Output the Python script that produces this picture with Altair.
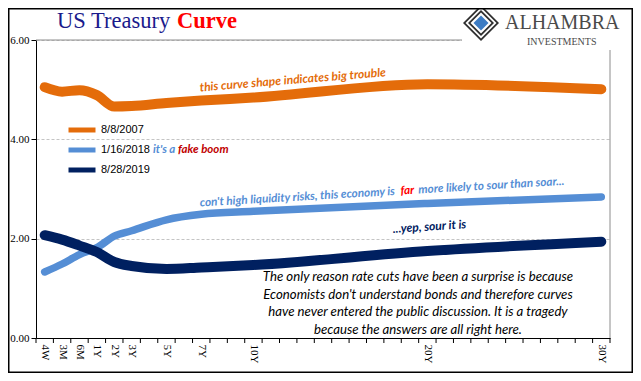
import altair as alt
import pandas as pd

# ---------------- data ----------------
tenors = ["4W", "3M", "6M", "1Y", "2Y", "3Y", "5Y", "7Y", "10Y", "20Y", "30Y"]
tenor_slot = [0, 1, 2, 3, 4, 5, 7, 9, 12, 22, 32]
series_names = ["8/8/2007", "1/16/2018", "8/28/2019"]
y2007 = [5.05, 4.96, 4.99, 4.89, 4.66, 4.67, 4.73, 4.78, 4.84, 5.11, 5.01]
y2018 = [1.33, 1.49, 1.68, 1.82, 2.05, 2.16, 2.38, 2.49, 2.55, 2.71, 2.84]
y2019 = [2.07, 1.98, 1.86, 1.73, 1.53, 1.45, 1.39, 1.42, 1.47, 1.75, 1.94]
y_ticks = [0, 2, 4, 6]
slot_bounds = [i - 0.5 for i in range(34)]

ORANGE = "#E46C0A"
LBLUE = "#558ED5"
NAVY = "#002060"

rows = []
for name, vals in zip(series_names, [y2007, y2018, y2019]):
    for t, s, v in zip(tenors, tenor_slot, vals):
        rows.append({"series": name, "tenor": t, "slot": s, "rate": v})
df = pd.DataFrame(rows)
one = pd.DataFrame({"k": [0]})

W, H = 574, 298
PAD = {"left": 28, "top": 32, "right": 23, "bottom": 35}

xscale = alt.Scale(domain=[-0.5, 32.5], nice=False, zero=False)
yscale = alt.Scale(domain=[0, 6], nice=False, zero=True)
color_scale = alt.Scale(domain=series_names, range=[ORANGE, LBLUE, NAVY])

label_expr = ("[" + ",".join(f"'{t}'" for t in tenors) + "][indexof(["
              + ",".join(str(s) for s in tenor_slot) + "], datum.value)]")

xaxis = alt.Axis(values=tenor_slot, labelExpr=label_expr, ticks=False, grid=False,
                 labelAngle=90, labelFont="Liberation Serif", labelFontSize=11,
                 labelColor="black", labelPadding=6, domainColor="black",
                 domainWidth=1, title=None)
yaxis = alt.Axis(values=y_ticks, format=".2f", grid=True, gridDash=[3, 2],
                 gridColor="#C4C4C4", tickColor="black", tickSize=5,
                 domainColor="black", labelFont="Liberation Serif",
                 labelFontSize=11, labelColor="black", labelPadding=2, title=None)

legend = alt.Legend(orient="none", legendX=30, legendY=83, symbolType="stroke",
                    symbolStrokeWidth=5, symbolSize=729, clipHeight=14,
                    rowPadding=6, labelFont="Liberation Sans", labelFontSize=11,
                    labelColor="black", title=None, labelOffset=3,
                    symbolOffset=0, padding=0)

X = alt.X("slot:Q", scale=xscale, axis=xaxis)
Y = alt.Y("rate:Q", scale=yscale, axis=yaxis)


def line_layer(name, width):
    return alt.Chart(df).transform_filter(alt.datum.series == name).mark_line(
        strokeWidth=width, strokeCap="round", strokeJoin="round",
        interpolate="monotone"
    ).encode(x=X, y=Y, color=alt.Color("series:N", scale=color_scale, legend=legend))


def note(text, x, y, color, size, angle=0, weight="normal", style="italic",
         font="Lato", align="left", dx=0):
    kw = dict(color=color, fontSize=size, fontStyle=style, fontWeight=weight,
              font=font, align=align, baseline="alphabetic")
    if angle:
        kw["angle"] = angle
    if dx:
        kw["dx"] = dx
    return alt.Chart(one).mark_text(**kw).encode(
        x=alt.value(x), y=alt.value(y), text=alt.value(text))


# frame / grid helpers
top_rule = alt.Chart(one).mark_rule(color="#8C8C8C", strokeWidth=1).encode(
    y=alt.datum(6), x=alt.value(0), x2=alt.value(W))
right_rule = alt.Chart(one).mark_rule(color="#8C8C8C", strokeWidth=1).encode(
    x=alt.datum(32.5), y=alt.value(0), y2=alt.value(H))
tick_marks = alt.Chart(pd.DataFrame({"b": slot_bounds})).mark_rule(
    color="black", strokeWidth=1).encode(
    x=alt.X("b:Q", scale=xscale, axis=xaxis), y=alt.value(H), y2=alt.value(H + 5))

# logo area
logo_bg = alt.Chart(one).mark_rect(fill="white").encode(
    x=alt.value(426), x2=alt.value(W + 23), y=alt.value(-32), y2=alt.value(10))


def diamond(size, color):
    return alt.Chart(one).mark_point(shape="diamond", filled=True, size=size * size,
                                     color=color, opacity=1).encode(
        x=alt.value(445), y=alt.value(-17))


logo = [diamond(36, "#2E2E2E"), diamond(31, "white"), diamond(26, "#2E2E2E"),
        diamond(21, "white"), diamond(15, "#3C7CC4")]
logo_text = [
    note("ALHAMBRA", 469, -11, "#4A4A4A", 20, style="normal", font="Liberation Serif"),
    note("INVESTMENTS", 491, 5, "#4A4A4A", 10, style="normal", font="Liberation Serif"),
]

frame = alt.Chart(one).mark_rect(fillOpacity=0, stroke="black", strokeWidth=1.5).encode(
    x=alt.value(-27.25), x2=alt.value(W + 22.25), y=alt.value(-31.25), y2=alt.value(H + 34.25))

title = [
    note("US Treasury", 21, -12.5, "#1A1A8C", 22.5, style="normal", font="Liberation Serif"),
    note("Curve", 141, -12.5, "#FF0000", 22.5, style="normal", weight="bold", font="Liberation Serif"),
]

BA = 356.6  # angle of the blue annotation
notes = [
    note("this curve shape indicates big trouble", 164, 51.5, ORANGE, 12, angle=355.3, weight="bold"),
    note("con't high liquidity risks, this economy is", 164, 166.5, LBLUE, 11.7, angle=BA, weight="bold"),
    note("far", 164, 166.5, "#FF0000", 11.7, angle=BA, weight="bold", dx=201),
    note("more likely to sour than soar...", 164, 166.5, LBLUE, 11.7, angle=BA, weight="bold", dx=219),
    note("...yep, sour it is", 357, 193, NAVY, 12, angle=356.2, weight="bold"),
    note("it's a", 117, 113, LBLUE, 11.5, weight="bold"),
    note("fake boom", 142, 113, "#C00000", 11.5, weight="bold"),
    alt.Chart(one).mark_text(color="black", fontSize=13.2, fontStyle="italic", font="Lato",
                             align="center", baseline="alphabetic", lineHeight=17.6).encode(
        x=alt.value(382), y=alt.value(241),
        text=alt.value(["The only reason rate cuts have been a surprise is because",
                        "Economists don't understand bonds and therefore curves",
                        "have never entered the public discussion. It is  a tragedy",
                        "because the answers are all right here."])),
]

chart = alt.layer(
    top_rule, right_rule, tick_marks,
    line_layer("8/8/2007", 10), line_layer("1/16/2018", 7.5), line_layer("8/28/2019", 10),
    *notes,
    logo_bg, *logo, *logo_text, *title, frame,
).properties(
    width=W, height=H, padding=PAD, autosize=alt.AutoSizeParams(type="none"),
    background="white",
).configure_view(stroke=None)

chart.save("out.html", embed_options={"renderer": "svg", "actions": False})
